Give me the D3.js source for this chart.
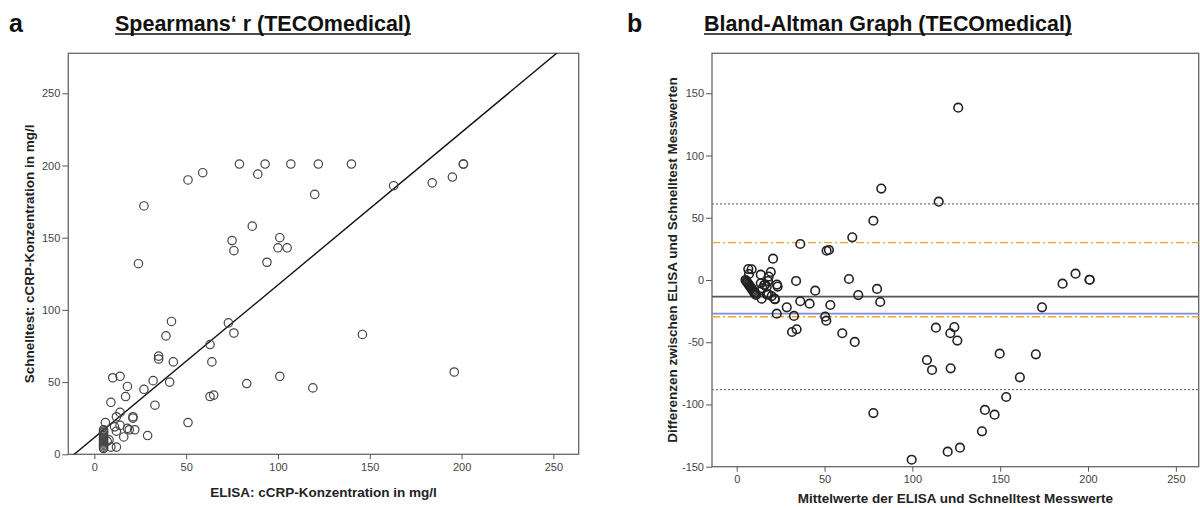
<!DOCTYPE html>
<html>
<head>
<meta charset="utf-8">
<script src="https://cdn.jsdelivr.net/npm/d3@7"></script>
<style>
  body { margin: 0; background: #fff; }
  svg { display: block; font-family: "Liberation Sans", Arial, sans-serif; }
  .tick text { fill: #444; font-size: 11px; }
  .tick line { stroke: #555; }
</style>
</head>
<body>
<svg id="fig" width="1200" height="508"></svg>
<script>
// panel a: ELISA vs Schnelltest (mg/l)
const elisa = [27,51,59,79,89,93,107,122,140,86,75,76,101,100,105,94,120,163,184,195,201,201,
  146,119,196,24,42,73,39,76,35,35,43,63,64,101,83,63,65,32,41,10,14,18,17,9,27,33,51,29,
  14,12,21,21,6,11,14,12,18,19,22,16,9,12,7,8,
  5,5,5,5,5,5,5,5,5,5,5,5,5,5];
const schnell = [172,190,195,201,194,201,201,201,201,158,148,141,150,143,143,133,180,186,188,192,201,201,
  83,46,57,132,92,91,82,84,68,66,64,76,64,54,49,40,41,51,50,53,54,47,40,36,45,34,22,13,
  29,26,26,25,22,19,20,16,18,17,17,12,5,5,9,10,
  4,5,6,7,8,9,10,11,12,13,14,15,16,17];
const regIntercept = 11.6, regSlope = 1.057;

// panel b: Bland-Altman (mean, difference)
const baMean = [82.3,77.8,65.8,36.2,51.2,52.5,20.7,126.1,115,8.5,7,13.7,19.4,18.2,13.7,16.1,17.8,22.9,23.3,
  33.8,63.9,44.7,79.9,69.2,81.7,14.6,17.1,19.9,14.2,21.6,36.2,41.5,53.3,22.8,28.5,32.6,50.4,51,31.5,
  34.1,60.1,67.2,77.8,99.6,108.3,192.9,185.5,200.9,200.9,173.8,113.4,123.9,121.6,125.6,111.2,121.8,
  149.7,170.3,161.2,153.4,141.3,146.8,139.6,127.1,120.1,
  5,5.5,6,6.5,7,7.5,8,8.5,9,9.5,10,10.5,11,6.6,15.7,17.1,18,21.8];
const baDiff = [73.4,47.6,34.3,28.9,23.5,24.1,17.1,138.4,62.9,8.6,4.8,4.3,6.4,2.7,-2.7,-4,-0.8,-3.7,-5.3,
  -0.8,0.8,-8.6,-7.2,-12.1,-17.7,-6.7,-11.5,-12.9,-15,-15,-17.1,-19,-20.1,-27.1,-22,-28.9,-29.5,-32.7,-41.8,
  -39.6,-42.8,-49.8,-106.9,-144.4,-64.3,5.1,-3,0.2,0.2,-22,-38.3,-37.8,-42.8,-48.7,-72.3,-71,
  -59.2,-59.7,-78.2,-94,-104.4,-108.2,-121.6,-134.7,-137.9,
  0,-1,-2,-3,-4,-5,-6,-7,-8,-9,-10,-11,-12,8.8,-4,-5.4,-11.5,-15.5];
const baMeanDiff = -13.4, baUpper = 61.1, baLower = -88.1;
const tolUpper = 30, tolLower = -29.5, baBlue = -27.1;

const xTicks = [0, 50, 100, 150, 200, 250];
const yTicksA = [0, 50, 100, 150, 200, 250];
const yTicksB = [-150, -100, -50, 0, 50, 100, 150];

const svg = d3.select("#fig");
const plain = d => String(d);  // keep the ASCII hyphen on negatives

function panel(opts) {
  const x = d3.scaleLinear().domain(opts.xDomain).range([opts.left, opts.right]);
  const y = d3.scaleLinear().domain(opts.yDomain).range([opts.bottom, opts.top]);
  const g = svg.append("g");

  g.append("g")
    .attr("transform", `translate(0,${opts.bottom})`)
    .call(d3.axisBottom(x).tickValues(xTicks).tickFormat(plain).tickSize(5).tickPadding(4))
    .call(a => a.select(".domain").remove());
  g.append("g")
    .attr("transform", `translate(${opts.left},0)`)
    .call(d3.axisLeft(y).tickValues(opts.yTicks).tickFormat(plain).tickSize(6).tickPadding(2))
    .call(a => a.select(".domain").remove());

  g.append("rect")
    .attr("x", opts.left).attr("y", opts.top)
    .attr("width", opts.right - opts.left).attr("height", opts.bottom - opts.top)
    .attr("fill", "none").attr("stroke", "#666").attr("stroke-width", 1.3);

  const clipId = "clip" + opts.id;
  g.append("clipPath").attr("id", clipId).append("rect")
    .attr("x", opts.left).attr("y", opts.top)
    .attr("width", opts.right - opts.left).attr("height", opts.bottom - opts.top);

  // axis titles
  g.append("text")
    .attr("x", (opts.left + opts.right) / 2).attr("y", opts.xTitleY)
    .attr("text-anchor", "middle")
    .style("font-size", "13.5px").style("font-weight", "bold").attr("fill", "#222")
    .text(opts.xTitle);
  g.append("text")
    .attr("transform", `translate(${opts.yTitleX},${(opts.top + opts.bottom) / 2}) rotate(-90)`)
    .attr("text-anchor", "middle")
    .style("font-size", "13.5px").style("font-weight", "bold").attr("fill", "#222")
    .text(opts.yTitle);

  // panel letter and underlined title
  svg.append("text").attr("x", opts.letterX).attr("y", 32)
    .style("font-size", "25px").style("font-weight", "bold").attr("fill", "#111")
    .text(opts.letter);
  svg.append("text").attr("x", opts.titleX).attr("y", 31)
    .attr("textLength", opts.titleW).attr("lengthAdjust", "spacingAndGlyphs")
    .style("font-size", "22px").style("font-weight", "bold").attr("fill", "#111")
    .text(opts.title);
  svg.append("line")
    .attr("x1", opts.titleX).attr("x2", opts.titleX + opts.titleW)
    .attr("y1", 34).attr("y2", 34).attr("stroke", "#111").attr("stroke-width", 1.5);

  return { x, y, g, clip: `url(#${clipId})` };
}

// ---- panel a ----
const A = panel({
  id: "a", left: 68.3, right: 578.7, top: 53.3, bottom: 454.3,
  xDomain: [-14.2, 263.8], yDomain: [0, 277.7], yTicks: yTicksA,
  xTitle: "ELISA: cCRP-Konzentration in mg/l", xTitleY: 497,
  yTitle: "Schnelltest: cCRP-Konzentration in mg/l", yTitleX: 34,
  letter: "a", letterX: 9, title: "Spearmans\u2018 r (TECOmedical)", titleX: 115, titleW: 296
});

A.g.append("line").attr("clip-path", A.clip)
  .attr("x1", A.x(-20)).attr("y1", A.y(regIntercept + regSlope * -20))
  .attr("x2", A.x(270)).attr("y2", A.y(regIntercept + regSlope * 270))
  .attr("stroke", "#111").attr("stroke-width", 1.4);

A.g.selectAll("circle.pt").data(elisa.map((e, i) => [e, schnell[i]]))
  .join("circle").attr("class", "pt")
  .attr("cx", d => A.x(d[0])).attr("cy", d => A.y(d[1])).attr("r", 4.2)
  .attr("fill", "none").attr("stroke", "#444").attr("stroke-width", 1.2);

// ---- panel b ----
const B = panel({
  id: "b", left: 712, right: 1198.7, top: 53.3, bottom: 466.7,
  xDomain: [-14.06, 263], yDomain: [-150, 182.1], yTicks: yTicksB,
  xTitle: "Mittelwerte der ELISA und Schnelltest Messwerte", xTitleY: 503,
  yTitle: "Differenzen zwischen ELISA und Schnelltest Messwerten", yTitleX: 677,
  letter: "b", letterX: 627, title: "Bland-Altman Graph (TECOmedical)", titleX: 704, titleW: 368
});

const refLines = [
  { v: baUpper, color: "#777", w: 1.3, dash: "2,2" },
  { v: baLower, color: "#777", w: 1.3, dash: "2,2" },
  { v: tolUpper, color: "#f5a12a", w: 1.4, dash: "8,3,2,3" },
  { v: baMeanDiff, color: "#555", w: 1.6, dash: null },
  { v: baBlue, color: "#7d8fcf", w: 1.8, dash: null },
  { v: tolLower, color: "#f5a12a", w: 1.4, dash: "8,3,2,3" }
];
B.g.selectAll("line.ref").data(refLines).join("line").attr("class", "ref")
  .attr("x1", B.x.range()[0]).attr("x2", B.x.range()[1])
  .attr("y1", d => B.y(d.v)).attr("y2", d => B.y(d.v))
  .attr("stroke", d => d.color).attr("stroke-width", d => d.w)
  .attr("stroke-dasharray", d => d.dash);

B.g.selectAll("circle.pt").data(baMean.map((m, i) => [m, baDiff[i]]))
  .join("circle").attr("class", "pt")
  .attr("cx", d => B.x(d[0])).attr("cy", d => B.y(d[1])).attr("r", 4.3)
  .attr("fill", "none").attr("stroke", "#222").attr("stroke-width", 1.6);
</script>
</body>
</html>
